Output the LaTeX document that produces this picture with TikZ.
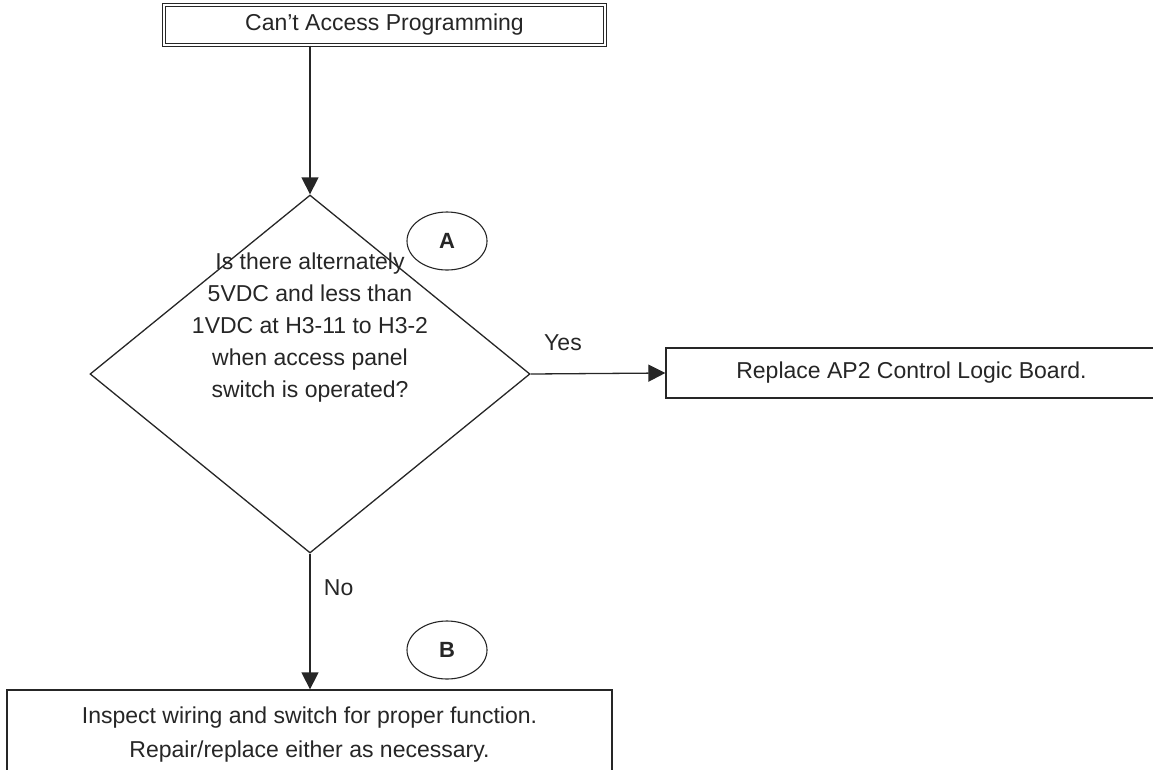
\documentclass[tikz,border=0pt]{standalone}
\usepackage{fontspec}
\setmainfont{Liberation Sans}
\usetikzlibrary{shapes.geometric, arrows.meta, positioning}

\begin{document}
\begin{tikzpicture}[x=1pt, y=-1pt,
  every node/.style={font=\fontsize{23}{32}\selectfont, text=black!85},
  box/.style={draw=black!85, line width=1.3pt, inner sep=0pt, align=center, fill=white},
  check/.style={diamond, draw=black!85, line width=1.3pt, inner sep=0pt},
  tag/.style={ellipse, draw=black!85, line width=1.1pt, minimum width=80pt, minimum height=58pt, font=\fontsize{22}{26}\selectfont\bfseries},
  arr/.style={-{Triangle[length=17pt, width=17pt]}, line width=1.3pt, draw=black!85},
]
\useasboundingbox (0,0) rectangle (1153,769);
\clip (0,0) rectangle (1153,769);

% Boxes
\node[box, double, double distance=2.5pt, line width=1pt, minimum width=441pt, minimum height=40pt] (start) at (384.5, 25) {Can’t Access Programming};
\node[check, minimum width=440pt, minimum height=358pt] (check) at (310, 374) {};
\node[align=center] (question) at (310, 328) {Is there alternately\\5VDC and less than\\1VDC at H3-11 to H3-2\\when access panel\\switch is operated?};
\node[box, minimum width=491pt, minimum height=50pt] (fix) at (911.5, 373) {Replace AP2 Control Logic Board.};
\node[box, minimum width=605pt, minimum height=90pt, font=\fontsize{23}{34}\selectfont] (inspect) at (309.5, 735) {Inspect wiring and switch for proper function.\\Repair/replace either as necessary.};

% Tags
\node[tag] (tagA) at (447, 241) {A};
\node[tag] (tagB) at (447, 650) {B};

% Connections
\draw[arr] (check.north |- start.south) -- (check.north);
\draw[arr] (check.east) -- node[above=19pt, pos=0.24] {Yes} (fix.west);
\draw[arr] (check.south) -- node[right=10pt, pos=0.25] {No} (check.south |- inspect.north);

\end{tikzpicture}
\end{document}
